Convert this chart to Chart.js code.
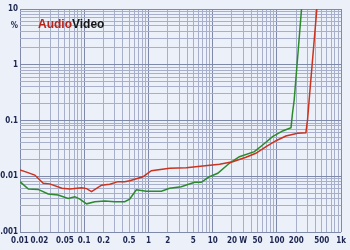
<!DOCTYPE html>
<html>
<head>
<meta charset="utf-8">
<script src="https://cdn.jsdelivr.net/npm/chart.js@4/dist/chart.umd.min.js"></script>
<style>
  html, body { margin: 0; padding: 0; background: #ebf0f9; }
  #wrap { width: 350px; height: 250px; }
</style>
</head>
<body>
<div id="wrap"><canvas id="myChart"></canvas></div>
<script>
// power in W (x) and THD+N in % (y)
var redPower = [0.01, 0.012, 0.017, 0.023, 0.029, 0.045, 0.06, 0.091, 0.109, 0.13, 0.186, 0.25, 0.336, 0.427, 0.511, 0.821, 1.11, 2.13, 3.88, 7.0, 12.8, 20.5, 33, 47, 68, 97, 138, 210, 283, 300, 318, 419];
var redThd   = [0.0129, 0.0121, 0.0105, 0.0075, 0.0073, 0.0061, 0.0059, 0.0062, 0.0060, 0.0053, 0.0069, 0.0072, 0.0080, 0.0080, 0.0083, 0.0098, 0.0126, 0.0139, 0.0142, 0.0153, 0.0164, 0.0182, 0.0219, 0.0258, 0.0339, 0.0434, 0.0527, 0.0589, 0.0604, 0.102, 0.233, 10];

var greenPower = [0.01, 0.0135, 0.0192, 0.0275, 0.0393, 0.0562, 0.0714, 0.0855, 0.109, 0.146, 0.209, 0.299, 0.427, 0.511, 0.648, 0.928, 1.59, 2.13, 3.24, 5.22, 6.63, 8.91, 12.0, 18.2, 26.1, 44.6, 60, 85.7, 123, 166, 175, 186, 242];
var greenThd   = [0.0080, 0.0059, 0.0058, 0.0048, 0.0046, 0.0040, 0.0043, 0.0039, 0.0032, 0.0035, 0.0036, 0.0035, 0.0035, 0.0039, 0.0057, 0.0054, 0.0054, 0.0061, 0.0065, 0.0078, 0.0078, 0.0098, 0.0113, 0.0171, 0.0224, 0.0276, 0.0364, 0.0512, 0.0649, 0.0743, 0.135, 0.233, 10];

// tick labels
var xTickValues = [0.01, 0.02, 0.05, 0.1, 0.2, 0.5, 1, 2, 5, 10, 20, 30, 50, 100, 200, 500, 1000];
var xTickLabels = ['0.01', '0.02', '0.05', '0.1', '0.2', '0.5', '1', '2', '5', '10', '20', 'W', '50', '100', '200', '500', '1k'];
var yTickValues = [10, 5, 1, 0.1, 0.01, 0.001];
var yTickLabels = ['10', '%', '1', '0.1', '0.01', '0.001'];

function toPoints(xs, ys) {
    return xs.map((x, i) => ({ x: x, y: ys[i] }));
}

// every 1..9 step of each decade, like the printed grid
function logTicks(min, max) {
    var out = [];
    for (var e = Math.round(Math.log10(min)); e < Math.round(Math.log10(max)); e++) {
        for (var m = 1; m < 10; m++) out.push({ value: +(m * Math.pow(10, e)).toPrecision(3) });
    }
    out.push({ value: max });
    return out;
}

function labelFor(values, labels, v) {
    for (var i = 0; i < values.length; i++) {
        if (Math.abs(values[i] - v) / values[i] < 1e-6) return labels[i];
    }
    return '';
}

function isDecade(v) {
    var l = Math.log10(v);
    return Math.abs(l - Math.round(l)) < 1e-6;
}

var tickFont = { family: "'Liberation Sans Narrow', 'DejaVu Sans Condensed', sans-serif", size: 8, weight: 'bold' };

// logo drawn inside the plot
var logoPlugin = {
    id: 'logo',
    afterDraw(chart) {
        var c = chart.ctx;
        c.save();
        c.font = "bold 12px 'Liberation Sans Narrow', sans-serif";
        c.textBaseline = 'middle';
        c.fillStyle = '#b8231a';
        c.fillText('Audio', 38, 25);
        var w = c.measureText('Audio').width;
        c.fillStyle = '#151515';
        c.fillText('Video', 38 + w, 25);
        c.restore();
    }
};

var bgPlugin = {
    id: 'bg',
    beforeDraw(chart) {
        var c = chart.ctx;
        c.save();
        c.fillStyle = '#ebf0f9';
        c.fillRect(0, 0, chart.width, chart.height);
        c.restore();
    }
};

var ctx = document.getElementById('myChart').getContext('2d');
var myChart = new Chart(ctx, {
    type: 'line',
    data: {
        datasets: [{
            label: 'red',
            data: toPoints(redPower, redThd),
            borderColor: '#c9331f',
            borderWidth: 1.5,
            pointRadius: 0,
            tension: 0
        }, {
            label: 'green',
            data: toPoints(greenPower, greenThd),
            borderColor: '#2b8a2b',
            borderWidth: 1.5,
            pointRadius: 0,
            tension: 0
        }]
    },
    options: {
        responsive: true,
        maintainAspectRatio: false,
        animation: false,
        layout: { padding: { left: 0, right: 8, top: 9, bottom: 0 } },
        plugins: { legend: { display: false }, tooltip: { enabled: false } },
        scales: {
            x: {
                type: 'logarithmic',
                min: 0.01,
                max: 1000,
                afterBuildTicks: s => { s.ticks = logTicks(0.01, 1000); },
                afterFit: s => { s.height = 18; },
                grid: {
                    drawTicks: false,
                    color: c => isDecade(c.tick.value) ? '#7f89aa' : '#a7afca',
                    lineWidth: 1
                },
                border: { display: false },
                ticks: {
                    autoSkip: false,
                    maxRotation: 0,
                    padding: 4,
                    color: '#1c2550',
                    font: tickFont,
                    callback: v => labelFor(xTickValues, xTickLabels, v)
                }
            },
            y: {
                type: 'logarithmic',
                min: 0.001,
                max: 10,
                afterBuildTicks: s => { s.ticks = logTicks(0.001, 10); },
                afterFit: s => { s.width = 20; },
                grid: {
                    drawTicks: false,
                    color: c => isDecade(c.tick.value) ? '#7f89aa' : '#a7afca',
                    lineWidth: 1
                },
                border: { display: false },
                ticks: {
                    autoSkip: false,
                    padding: 2,
                    color: '#1c2550',
                    font: tickFont,
                    callback: v => labelFor(yTickValues, yTickLabels, v)
                }
            }
        }
    },
    plugins: [bgPlugin, logoPlugin]
});
</script>
</body>
</html>
